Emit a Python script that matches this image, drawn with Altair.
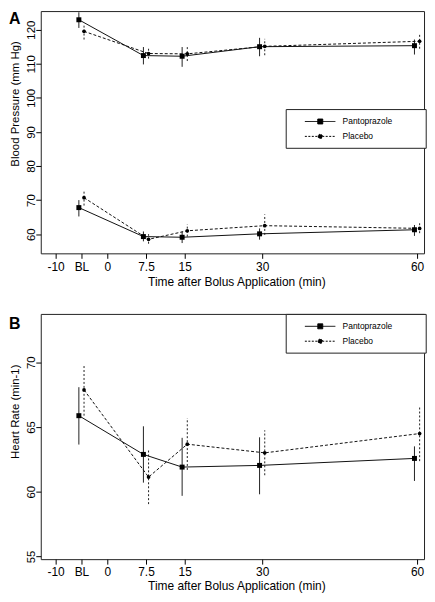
import altair as alt
import pandas as pd

FONT = "Liberation Sans"

series_names = ["Pantoprazole", "Placebo"]
times = [-5, 7.5, 15, 30, 60]            # BL plotted at -5 min
xtick_values = [-10, -5, 0, 7.5, 15, 30, 60]
xtick_labels = ["-10", "BL", "0", "7.5", "15", "30", "60"]

# Panel A: blood pressure (mean, lower and upper error bar)
sys_panto = [122.9, 112.4, 112.2, 115.0, 115.3]
sys_panto_lo = [120.5, 109.8, 109.1, 112.2, 112.7]
sys_panto_hi = [125.1, 114.9, 114.9, 117.6, 117.1]
sys_plac = [119.5, 113.0, 112.9, 115.1, 116.6]
sys_plac_lo = [117.1, 111.5, 110.8, 112.5, 114.4]
sys_plac_hi = [121.7, 114.4, 115.2, 117.3, 118.5]

dia_panto = [67.8, 59.3, 59.1, 60.1, 61.3]
dia_panto_lo = [65.2, 57.9, 57.4, 58.4, 59.5]
dia_panto_hi = [70.0, 60.8, 60.8, 61.7, 62.7]
dia_plac = [70.7, 58.5, 61.0, 62.5, 61.7]
dia_plac_lo = [68.4, 57.2, 59.3, 59.8, 60.3]
dia_plac_hi = [72.6, 60.0, 62.9, 65.8, 63.2]

# Panel B: heart rate
hr_panto = [65.87, 62.88, 61.90, 62.03, 62.57]
hr_panto_lo = [63.64, 60.70, 59.68, 59.80, 60.83]
hr_panto_hi = [68.07, 65.05, 64.16, 64.20, 63.50]
hr_plac = [67.86, 61.13, 63.67, 63.00, 64.49]
hr_plac_lo = [65.87, 59.04, 61.68, 61.27, 62.36]
hr_plac_hi = [69.78, 63.26, 65.69, 64.74, 66.58]

dodge = {"Pantoprazole": -0.5, "Placebo": 0.5}


def rows(series, measure, mean, lo, hi):
    return [
        dict(series=series, measure=measure, t=t + dodge[series], value=m, lo=l, hi=h)
        for t, m, l, h in zip(times, mean, lo, hi)
    ]


df_a = pd.DataFrame(
    rows("Pantoprazole", "sys", sys_panto, sys_panto_lo, sys_panto_hi)
    + rows("Placebo", "sys", sys_plac, sys_plac_lo, sys_plac_hi)
    + rows("Pantoprazole", "dia", dia_panto, dia_panto_lo, dia_panto_hi)
    + rows("Placebo", "dia", dia_plac, dia_plac_lo, dia_plac_hi)
)
df_b = pd.DataFrame(
    rows("Pantoprazole", "hr", hr_panto, hr_panto_lo, hr_panto_hi)
    + rows("Placebo", "hr", hr_plac, hr_plac_lo, hr_plac_hi)
)

label_expr = "''"
for v, s in reversed(list(zip(xtick_values, xtick_labels))):
    label_expr = f"datum.value == {v} ? '{s}' : ({label_expr})"

# legend symbols: line sample + marker (unit = 5 px); trailing move-to sizes the legend frame
path_panto = "M1.36,0H7.5M3.96,-0.5H4.96V0.5H3.96ZM23.86,0"
path_plac = "M1.36,0H7.5M4.02,0A0.44,0.44,0,1,0,4.9,0A0.44,0.44,0,1,0,4.02,0ZM23.86,0"

W = 386
PX_PER_MIN = 5.2
X_DOMAIN = [-12.88, -12.88 + W / PX_PER_MIN]


def panel(df, letter, ydomain, yticks, ytitle, title_y, legend_y, height, letter_y,
          label_pad, xtitle_y):
    xs = alt.Scale(domain=X_DOMAIN, nice=False, zero=False)
    ys = alt.Scale(domain=ydomain, nice=False, zero=False)
    xaxis = alt.Axis(
        values=xtick_values, labelExpr=label_expr, title="Time after Bolus Application (min)",
        grid=False, domain=False, ticks=True, tickSize=5, tickColor="black", tickWidth=1,
        labelFont=FONT, labelFontSize=12, labelColor="black", labelBaseline="alphabetic",
        labelPadding=label_pad, labelFlush=False, labelOverlap=False,
        titleFont=FONT, titleFontSize=12, titleFontWeight="normal", titleColor="black",
        titleBaseline="alphabetic", titleAlign="center", titleX=197, titleY=xtitle_y,
    )
    yaxis = alt.Axis(
        values=yticks, format="d", title=ytitle,
        grid=False, domain=False, ticks=True, tickSize=5, tickColor="black", tickWidth=1,
        labelFont=FONT, labelFontSize=11.5, labelColor="black", labelAngle=270,
        labelAlign="center", labelBaseline="alphabetic", labelPadding=1.7,
        labelFlush=False, labelOverlap=False,
        titleFont=FONT, titleFontSize=11.5, titleFontWeight="normal", titleColor="black",
        titleAngle=270, titleAlign="center", titleBaseline="alphabetic",
        titleX=-22.8, titleY=title_y,
    )
    X = alt.X("t:Q", scale=xs, axis=xaxis)
    Y = alt.Y("value:Q", scale=ys, axis=yaxis)
    Ylo = alt.Y("lo:Q", scale=ys, axis=yaxis)

    base = alt.Chart(df)
    p = base.transform_filter(alt.datum.series == "Pantoprazole")
    q = base.transform_filter(alt.datum.series == "Placebo")

    rules_p = p.mark_rule(color="#222", strokeWidth=1).encode(x=X, y=Ylo, y2="hi:Q")
    rules_q = q.mark_rule(color="#222", strokeWidth=1, strokeDash=[2, 2]).encode(x=X, y=Ylo, y2="hi:Q")
    line_p = p.mark_line(color="#111", strokeWidth=1).encode(x=X, y=Y, detail="measure:N")
    line_q = q.mark_line(color="#111", strokeWidth=1, strokeDash=[3, 2]).encode(x=X, y=Y, detail="measure:N")
    pts_p = p.mark_point(shape="square", filled=True, color="black", size=25, opacity=1).encode(x=X, y=Y)
    pts_q = q.mark_point(shape="circle", filled=True, color="black", size=14, opacity=1).encode(x=X, y=Y)

    leg_props = dict(
        orient="none", legendX=246.7, legendY=legend_y, title=None,
        strokeColor="#222", fillColor="white", padding=7, cornerRadius=0,
        labelFont=FONT, labelFontSize=8.5, labelColor="black",
        labelOffset=39.3, rowPadding=5, symbolSize=100, symbolOpacity=1,
        symbolStrokeWidth=1,
    )
    leg = base.mark_point(filled=False, fill="black", stroke="black", color="black",
                          strokeWidth=1, opacity=0).encode(
        shape=alt.Shape("series:N", scale=alt.Scale(domain=series_names, range=[path_panto, path_plac]),
                        legend=alt.Legend(**leg_props)),
        strokeDash=alt.StrokeDash("series:N", scale=alt.Scale(domain=series_names, range=[[1, 0], [2, 1.5]]),
                                  legend=alt.Legend(**leg_props)),
    )
    lab = alt.Chart(pd.DataFrame({"panel": [letter]})).mark_text(
        font=FONT, fontSize=16, fontWeight="bold", color="black", align="left", baseline="alphabetic"
    ).encode(text="panel:N", x=alt.value(-32), y=alt.value(letter_y))

    return alt.layer(rules_p, rules_q, line_p, line_q, pts_p, pts_q, leg, lab).properties(
        width=W, height=height
    )


panel_a = panel(df_a, "A", [54.38, 125.45], [60, 70, 80, 90, 100, 110, 120],
                "Blood Pressure (mm Hg)", 93, 98.7, 244, 13, 12, 32.5)
panel_b = panel(df_b, "B", [54.79, 73.73], [55, 60, 65, 70],
                "Heart Rate (min-1)", 98, 0, 247, 15.3, 11.5, 31)

chart = alt.VConcatChart(vconcat=[panel_a, panel_b], spacing=61, bounds="flush").resolve_scale(
    shape="independent", strokeDash="independent"
).properties(padding=0).configure_view(stroke="#222", strokeWidth=1)

chart.save("out.html", embed_options={"renderer": "svg", "actions": False})
